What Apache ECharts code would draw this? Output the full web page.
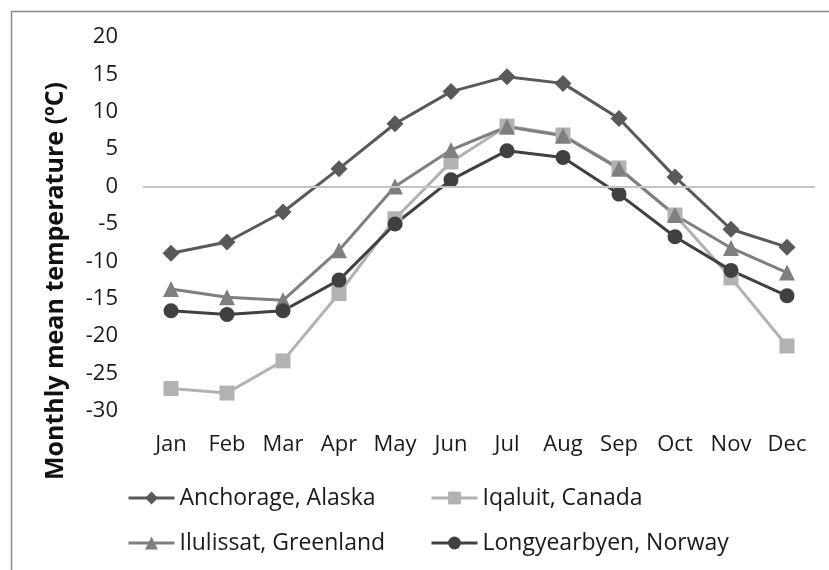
<!DOCTYPE html>
<html>
<head>
<meta charset="utf-8">
<script src="https://cdn.jsdelivr.net/npm/echarts@6/dist/echarts.min.js"></script>
<style>
  html, body { margin: 0; padding: 0; background: #fff; }
  #main { width: 829px; height: 570px; }
</style>
</head>
<body>
<div id="main"></div>
<script>
var months = ['Jan', 'Feb', 'Mar', 'Apr', 'May', 'Jun', 'Jul', 'Aug', 'Sep', 'Oct', 'Nov', 'Dec'];
var anchorage = [-8.9, -7.4, -3.4, 2.4, 8.4, 12.7, 14.7, 13.8, 9.1, 1.3, -5.7, -8.1];
var iqaluit = [-27.0, -27.6, -23.3, -14.3, -4.3, 3.3, 8.1, 6.9, 2.5, -3.8, -12.2, -21.3];
var ilulissat = [-13.7, -14.8, -15.2, -8.5, 0, 4.9, 8.0, 6.8, 2.4, -3.8, -8.2, -11.5];
var longyearbyen = [-16.6, -17.1, -16.6, -12.5, -5.0, 0.9, 4.8, 3.9, -1.0, -6.7, -11.2, -14.6];

var chart = echarts.init(document.getElementById('main'), null, { renderer: 'canvas' });

var fontName = '"Open Sans", "Noto Sans", sans-serif';

function line(name, data, color, symbol, size) {
  return {
    name: name,
    type: 'line',
    data: data,
    symbol: symbol,
    symbolSize: size,
    showSymbol: true,
    animation: false,
    lineStyle: { color: color, width: 3 },
    itemStyle: { color: color, borderWidth: 0 }
  };
}

var series = [
  line('Anchorage, Alaska', anchorage, '#595959', 'diamond', 17),
  line('Iqaluit, Canada', iqaluit, '#b2b2b2', 'rect', 15),
  line('Ilulissat, Greenland', ilulissat, '#7f7f7f', 'triangle', 16),
  line('Longyearbyen, Norway', longyearbyen, '#404040', 'circle', 15)
];
// zero line
series[0].markLine = {
  silent: true,
  symbol: 'none',
  label: { show: false },
  lineStyle: { color: '#c4c4c4', width: 2, type: 'solid' },
  data: [{ yAxis: 0 }]
};

var legendText = { fontFamily: fontName, fontSize: 23, color: '#1a1a1a', lineHeight: 26 };

var option = {
  backgroundColor: '#fff',
  animation: false,
  grid: { left: 143, right: 14, top: 37, bottom: 159 },
  graphic: [
    {
      type: 'rect',
      left: 9, top: 9,
      shape: { width: 1000, height: 1000 },
      style: { fill: 'none', stroke: '#8a8a8a', lineWidth: 1.5 },
      silent: true
    },
    {
      type: 'text',
      x: 56, y: 281,
      rotation: Math.PI / 2,
      style: {
        text: 'Monthly mean temperature (ºC)',
        font: 'bold 25px ' + fontName,
        fill: '#111',
        align: 'center',
        verticalAlign: 'middle'
      }
    }
  ],
  legend: [
    {
      orient: 'vertical',
      left: 127, top: 485, padding: 0,
      itemWidth: 46, itemHeight: 16, itemGap: 19,
      lineStyle: { width: 3 },
      textStyle: legendText,
      data: ['Anchorage, Alaska', 'Ilulissat, Greenland']
    },
    {
      orient: 'vertical',
      left: 430, top: 485, padding: 0,
      itemWidth: 46, itemHeight: 16, itemGap: 19,
      lineStyle: { width: 3 },
      textStyle: legendText,
      data: ['Iqaluit, Canada', 'Longyearbyen, Norway']
    }
  ],
  xAxis: {
    type: 'category',
    data: months,
    boundaryGap: true,
    axisLine: { show: false },
    axisTick: { show: false },
    splitLine: { show: false },
    axisLabel: { interval: 0, margin: 23, fontFamily: fontName, fontSize: 22, color: '#1a1a1a' }
  },
  yAxis: {
    type: 'value',
    min: -30, max: 20, interval: 5,
    axisLine: { show: false },
    axisTick: { show: false },
    splitLine: { show: false },
    axisLabel: { margin: 25, fontFamily: fontName, fontSize: 22, color: '#1a1a1a' }
  },
  series: series
};

chart.setOption(option);
</script>
</body>
</html>
